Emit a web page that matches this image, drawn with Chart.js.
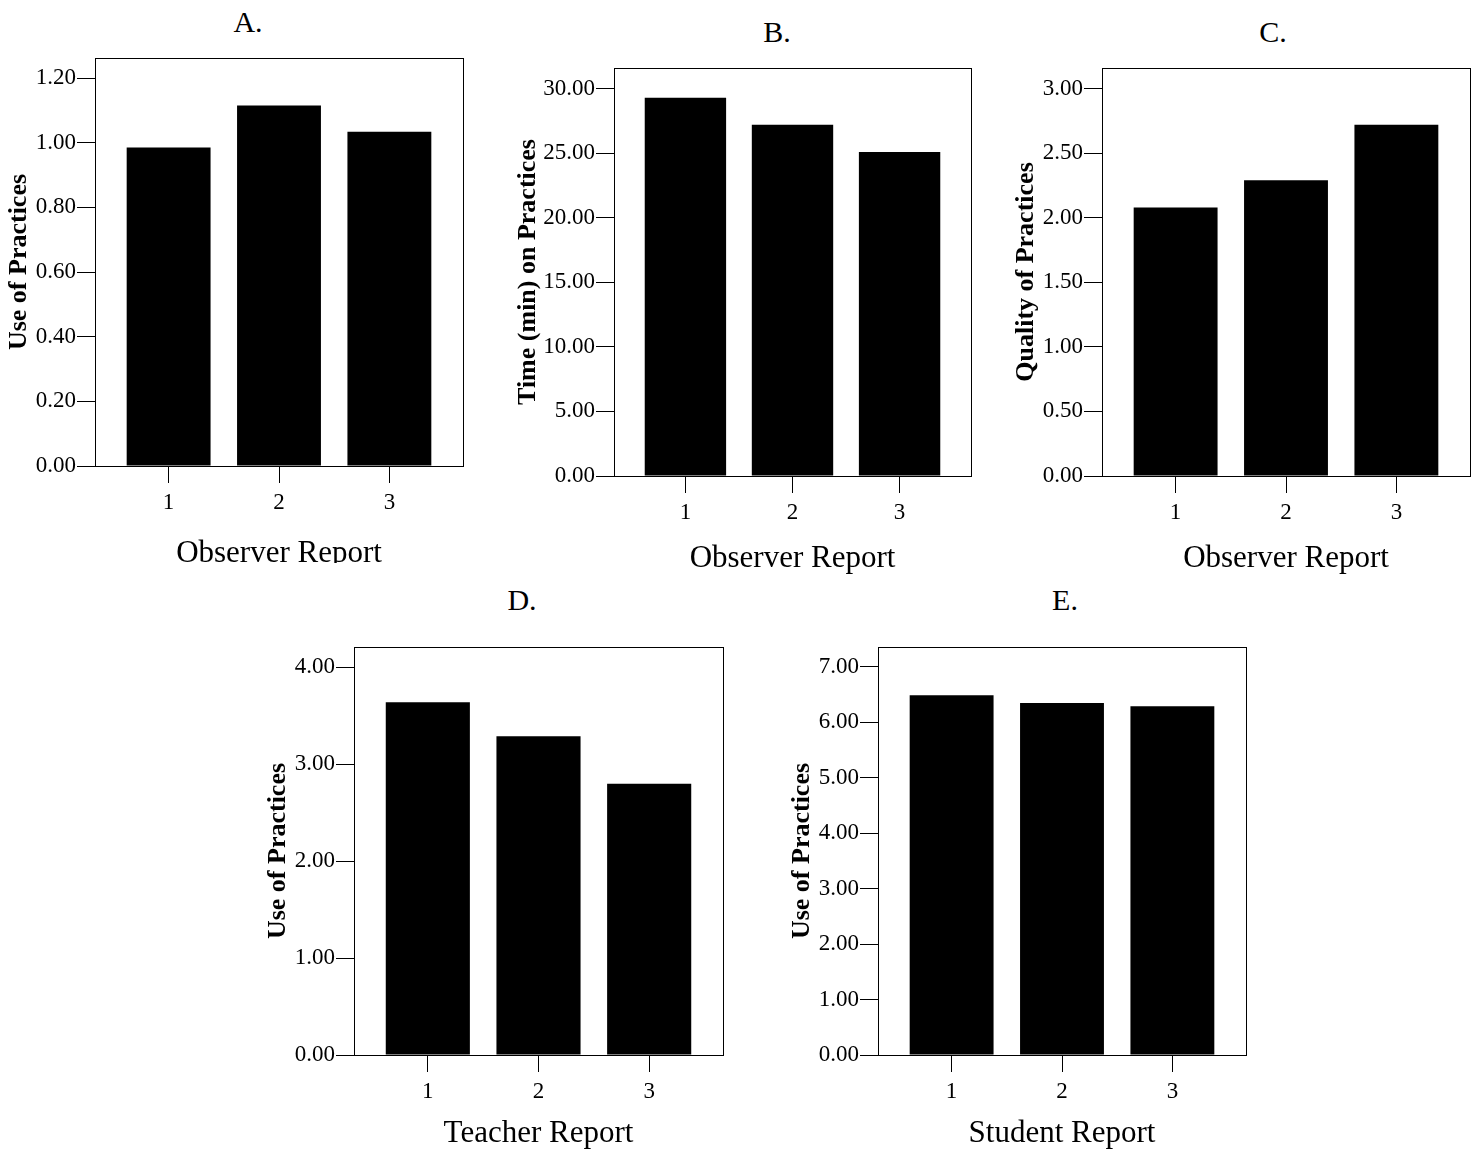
<!DOCTYPE html>
<html>
<head>
<meta charset="utf-8">
<title>Use, time and quality of practices by report</title>
<script src="https://cdn.jsdelivr.net/npm/chart.js@4.4.1/dist/chart.umd.min.js"></script>
<style>
    body {
        margin: 0;
        background: #fff;
        overflow: hidden;
        font-family: "Liberation Serif", "Times New Roman", serif;
    }
    .figure {
        position: relative;
        width: 1481px;
        height: 1149px;
        overflow: hidden;
    }
    .panel-letter {
        position: absolute;
        font-size: 30px;
        line-height: 30px;
        color: #000;
        transform: translateX(-50%);
    }
    .panel {
        position: absolute;
        overflow: hidden;
    }
    .panel canvas {
        display: block;
    }
</style>
</head>
<body>
<div class="figure">
    <div class="panel-letter" style="left:248px; top:7px;">A.</div>
    <div class="panel-letter" style="left:777px; top:17px;">B.</div>
    <div class="panel-letter" style="left:1273px; top:17px;">C.</div>
    <div class="panel-letter" style="left:522px; top:585px;">D.</div>
    <div class="panel-letter" style="left:1065px; top:585px;">E.</div>

    <!-- A is cut off just under the axis title, as in the original figure -->
    <div class="panel" style="left:0px; top:42px; width:469px; height:521px;">
        <canvas id="chart-a" width="469" height="534"></canvas>
    </div>
    <div class="panel" style="left:509px; top:52px; width:468px; height:529px;">
        <canvas id="chart-b" width="468" height="529"></canvas>
    </div>
    <div class="panel" style="left:1007px; top:52px; width:469px; height:529px;">
        <canvas id="chart-c" width="469" height="529"></canvas>
    </div>
    <div class="panel" style="left:259px; top:631px; width:470px; height:525px;">
        <canvas id="chart-d" width="470" height="525"></canvas>
    </div>
    <div class="panel" style="left:783px; top:631px; width:469px; height:525px;">
        <canvas id="chart-e" width="469" height="525"></canvas>
    </div>
</div>

<script>
    "use strict";

    // Data
    var categories = [1, 2, 3];

    var useObserver = [0.985, 1.115, 1.034];
    var timeObserver = [29.3, 27.2, 25.1];
    var qualityObserver = [2.08, 2.29, 2.72];
    var useTeacher = [3.64, 3.29, 2.80];
    var useStudent = [6.49, 6.35, 6.29];

    var ticksUseObserver = [0, 0.2, 0.4, 0.6, 0.8, 1.0, 1.2];
    var ticksTimeObserver = [0, 5, 10, 15, 20, 25, 30];
    var ticksQualityObserver = [0, 0.5, 1.0, 1.5, 2.0, 2.5, 3.0];
    var ticksUseTeacher = [0, 1, 2, 3, 4];
    var ticksUseStudent = [0, 1, 2, 3, 4, 5, 6, 7];


    // Chart Global
    Chart.defaults.font.family = "'Liberation Serif', 'Times New Roman', serif";
    Chart.defaults.color = "#000000";


    // Box round the plot area
    var chartAreaBorder = {
        id: 'chartAreaBorder',
        afterDraw: function (chart) {
            var ctx = chart.ctx;
            var area = chart.chartArea;
            ctx.save();
            ctx.strokeStyle = "#000000";
            ctx.lineWidth = 1;
            ctx.strokeRect(Math.round(area.left) + 0.5, Math.round(area.top) + 0.5,
                Math.round(area.width), Math.round(area.height));
            ctx.restore();
        }
    };


    var barPanel = function (id, values, yTicks, yMax, yTitle, xTitle, yWidth, xHeight) {
        var ctx = document.getElementById(id).getContext("2d");
        return new Chart(ctx, {
            type: "bar",
            data: {
                datasets: [{
                    data: categories.map(function (c, i) {
                        return {x: c, y: values[i]};
                    }),
                    backgroundColor: "#000000",
                    borderWidth: 0,
                    barPercentage: 0.76,
                    categoryPercentage: 1
                }]
            },
            options: {
                responsive: false,
                animation: false,
                events: [],
                layout: {
                    padding: {top: 16, right: 6, bottom: 0, left: 0}
                },
                plugins: {
                    legend: {display: false},
                    tooltip: {enabled: false}
                },
                scales: {
                    x: {
                        type: "linear",
                        offset: false,
                        min: categories[0] - 0.667,
                        max: categories[categories.length - 1] + 0.667,
                        afterBuildTicks: function (axis) {
                            axis.ticks = categories.map(function (c) {
                                return {value: c};
                            });
                        },
                        afterFit: function (axis) {
                            axis.height = xHeight;
                        },
                        border: {display: false},
                        grid: {
                            offset: false,
                            drawOnChartArea: false,
                            drawTicks: true,
                            tickLength: 17,
                            color: "#000000",
                            lineWidth: 1
                        },
                        ticks: {
                            font: {size: 23},
                            padding: 6,
                            maxRotation: 0,
                            callback: function (v) {
                                return String(v);
                            }
                        },
                        title: {
                            display: true,
                            text: xTitle,
                            font: {size: 31},
                            padding: {top: 4, bottom: 4}
                        }
                    },
                    y: {
                        min: 0,
                        max: yMax,
                        afterBuildTicks: function (axis) {
                            axis.ticks = yTicks.map(function (t) {
                                return {value: t};
                            });
                        },
                        afterFit: function (axis) {
                            axis.width = yWidth;
                        },
                        border: {display: false},
                        grid: {
                            drawOnChartArea: false,
                            drawTicks: true,
                            tickLength: 18,
                            color: "#000000",
                            lineWidth: 1
                        },
                        ticks: {
                            font: {size: 23},
                            padding: 1,
                            callback: function (v) {
                                return Number(v).toFixed(2);
                            }
                        },
                        title: {
                            display: true,
                            text: yTitle,
                            font: {size: 26, weight: "bold"},
                            padding: {top: 4, bottom: 4}
                        }
                    }
                }
            },
            plugins: [chartAreaBorder]
        });
    };


    // A. Observer report, use of practices
    var chartA = barPanel("chart-a", useObserver, ticksUseObserver, 1.262,
        "Use of Practices", "Observer Report", 95, 110);

    // B. Observer report, time on practices
    var chartB = barPanel("chart-b", timeObserver, ticksTimeObserver, 31.6,
        "Time (min) on Practices", "Observer Report", 105, 105);

    // C. Observer report, quality of practices
    var chartC = barPanel("chart-c", qualityObserver, ticksQualityObserver, 3.16,
        "Quality of Practices", "Observer Report", 95, 105);

    // D. Teacher report
    var chartD = barPanel("chart-d", useTeacher, ticksUseTeacher, 4.21,
        "Use of Practices", "Teacher Report", 95, 101);

    // E. Student report
    var chartE = barPanel("chart-e", useStudent, ticksUseStudent, 7.36,
        "Use of Practices", "Student Report", 95, 101);
</script>
</body>
</html>
